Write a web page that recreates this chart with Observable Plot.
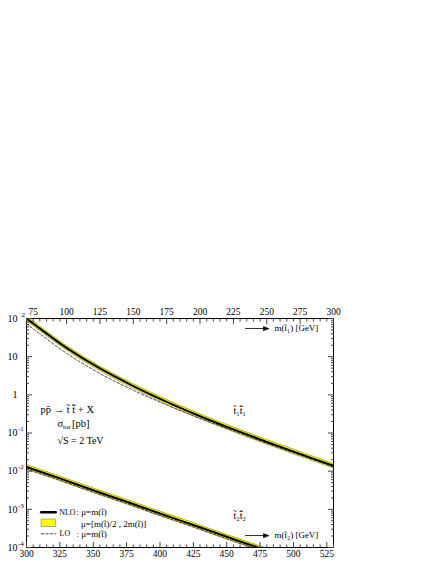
<!DOCTYPE html>
<html>
<head>
<meta charset="utf-8">
<script src="https://cdn.jsdelivr.net/npm/d3@7"></script>
<script src="https://cdn.jsdelivr.net/npm/@observablehq/plot@0.6"></script>
<style>
  html, body { margin: 0; padding: 0; background: #fff; }
  #chart svg { display: block; }
</style>
</head>
<body>
<div id="chart"></div>
<script>
// ---- data ----
// stop-1 pair: masses on the top axis m(t1) [GeV]
const t1Mass = [70, 75, 100, 125, 150, 175, 200, 225, 250, 275, 300];
const t1Nlo  = [100, 74.1, 17.0, 4.9, 1.70, 0.653, 0.275, 0.124, 0.0582, 0.0282, 0.0138];
const t1Up   = [115, 85, 19.6, 5.6, 1.95, 0.75, 0.316, 0.143, 0.067, 0.0324, 0.0159];
const t1Down = [87, 64.5, 14.8, 4.26, 1.48, 0.568, 0.239, 0.108, 0.0506, 0.0245, 0.0120];
const t1Lo   = [72.4, 53.7, 12.3, 3.63, 1.32, 0.543, 0.240, 0.113, 0.0537, 0.0263, 0.0129];
// stop-2 pair: masses on the bottom axis m(t2) [GeV]
const t2Mass = [300, 325, 350, 375, 400, 425, 450, 475, 480];
const t2Nlo  = [0.0129, 0.00646, 0.00316, 0.00158, 0.000776, 0.000389, 0.000191, 0.0000955, 0.0000832];
const t2Up   = [0.0148, 0.0074, 0.00363, 0.00182, 0.00089, 0.000447, 0.000219, 0.00011, 0.0000955];
const t2Down = [0.0112, 0.0056, 0.00275, 0.00138, 0.00068, 0.000339, 0.000166, 0.000083, 0.0000724];
const t2Lo   = [0.0115, 0.00575, 0.00282, 0.00141, 0.00069, 0.000347, 0.00017, 0.000085, 0.000074];

// axis ticks
const bottomMajor = [300, 325, 350, 375, 400, 425, 450, 475, 500, 525];
const topMajor = [75, 100, 125, 150, 175, 200, 225, 250, 275, 300];
const yMajor = [1e-4, 1e-3, 1e-2, 1e-1, 1, 10, 100];
const yBase = ["10", "10", "10", "10", "1", "10", "10"];
const yExp  = ["-4", "-3", "-2", "-1", "", "", "\u20022"];
const TOP_OFFSET = 230; // m(t2) - m(t1) between the two horizontal axes

// ---- derived tables ----
const t1 = t1Mass.map((m, i) => ({x: m + TOP_OFFSET, nlo: t1Nlo[i], up: t1Up[i], down: t1Down[i], lo: t1Lo[i]}));
const t2 = t2Mass.map((m, i) => ({x: m, nlo: t2Nlo[i], up: t2Up[i], down: t2Down[i], lo: t2Lo[i]}));
const topMajorPos = topMajor.map(v => v + TOP_OFFSET);
const bottomMinor = d3.range(300, 531, 5).filter(v => !bottomMajor.includes(v));
const topMinorPos = d3.range(300, 531, 5).filter(v => !topMajorPos.includes(v));
const yMinor = [];
for (let e = -4; e < 2; e++) for (let k = 2; k <= 9; k++) yMinor.push(k * Math.pow(10, e));

const FONT = "'Liberation Serif', 'Times New Roman', serif";
const YELLOW = "#ffff00";
const EDGE = "#7a7a30";
const CURVE = "catmull-rom";

// custom vector shapes
const lineShape = {draw(c, l) { c.moveTo(0, 0); c.lineTo(0, -l); }};
const rectShape = {draw(c, l) { c.moveTo(-3.5, 0); c.lineTo(3.5, 0); c.lineTo(3.5, -l); c.lineTo(-3.5, -l); c.closePath(); }};
const arrowShape = {draw(c, l) {
  c.moveTo(0, 0); c.lineTo(0, -l + 4);
  c.moveTo(0, -l); c.lineTo(-1.8, -l + 5); c.lineTo(1.8, -l + 5); c.closePath();
}};

const curveMarks = (rows) => [
  Plot.areaY(rows, {x: "x", y1: "down", y2: "up", fill: YELLOW, clip: true, curve: CURVE}),
  Plot.lineY(rows, {x: "x", y: "up", stroke: EDGE, strokeWidth: 0.6, clip: true, curve: CURVE}),
  Plot.lineY(rows, {x: "x", y: "down", stroke: EDGE, strokeWidth: 0.6, clip: true, curve: CURVE}),
  Plot.lineY(rows, {x: "x", y: "lo", stroke: "#222", strokeWidth: 0.8, strokeDasharray: "2.5,2", clip: true, curve: CURVE}),
  Plot.lineY(rows, {x: "x", y: "nlo", stroke: "#000", strokeWidth: 2, clip: true, curve: CURVE})
];

const txt = (s, o) => Plot.text([s], {text: d => d, textAnchor: "start", lineAnchor: "middle", fill: "#000", fontFamily: FONT, ...o});

const chart = Plot.plot({
  width: 436,
  height: 564,
  marginTop: 318,
  marginLeft: 26,
  marginRight: 103,
  marginBottom: 17,
  style: {fontFamily: FONT, fontSize: "10px", background: "#fff", color: "#000"},
  x: {domain: [300, 530]},
  y: {type: "log", domain: [1e-4, 1e2]},
  marks: [
    ...curveMarks(t1),
    ...curveMarks(t2),
    Plot.frame({stroke: "#000", strokeWidth: 1}),
    // bottom axis
    Plot.axisX({anchor: "bottom", ticks: bottomMajor, tickSize: -5, tickFormat: () => "", label: null, stroke: "#444"}),
    Plot.axisX({anchor: "bottom", ticks: bottomMinor, tickSize: -2.5, tickFormat: () => "", label: null, stroke: "#444"}),
    Plot.axisX({anchor: "bottom", ticks: bottomMajor, tickSize: 0, tickPadding: 3, tickFormat: d => String(d), label: null, fontSize: 9.5}),
    // top axis
    Plot.axisX({anchor: "top", ticks: topMajorPos, tickSize: -5, tickFormat: () => "", label: null, stroke: "#444"}),
    Plot.axisX({anchor: "top", ticks: topMinorPos, tickSize: -2.5, tickFormat: () => "", label: null, stroke: "#444"}),
    Plot.axisX({anchor: "top", ticks: topMajorPos, tickSize: 0, tickPadding: 4, tickFormat: d => String(d - TOP_OFFSET), label: null, fontSize: 9.5}),
    // left & right axes
    Plot.axisY({anchor: "left", ticks: yMajor, tickSize: -6, tickFormat: () => "", label: null, stroke: "#444"}),
    Plot.axisY({anchor: "left", ticks: yMinor, tickSize: -3, tickFormat: () => "", label: null, stroke: "#444"}),
    Plot.axisY({anchor: "right", ticks: yMajor, tickSize: -6, tickFormat: () => "", label: null, stroke: "#444"}),
    Plot.axisY({anchor: "right", ticks: yMinor, tickSize: -3, tickFormat: () => "", label: null, stroke: "#444"}),
    Plot.axisY({anchor: "left", ticks: yMajor, tickSize: 0, tickPadding: 9, tickFormat: d => yBase[yMajor.indexOf(d)], label: null, fontSize: 10}),
    Plot.axisY({anchor: "left", ticks: yMajor, tickSize: 0, tickPadding: 8.5, textAnchor: "start", dy: -4, tickFormat: d => yExp[yMajor.indexOf(d)], label: null, fontSize: 7}),
    // axis titles inside the frame
    Plot.vector([0], {frameAnchor: "top-left", dx: 219, dy: 10, rotate: 90, length: 23, anchor: "start", shape: arrowShape, stroke: "#000", fill: "#000", strokeWidth: 0.8}),
    txt("m(t\u0303\u2081) [GeV]", {frameAnchor: "top-left", dx: 248, dy: 10, fontSize: 9}),
    Plot.vector([0], {frameAnchor: "top-left", dx: 219, dy: 217, rotate: 90, length: 23, anchor: "start", shape: arrowShape, stroke: "#000", fill: "#000", strokeWidth: 0.8}),
    txt("m(t\u0303\u2082) [GeV]", {frameAnchor: "top-left", dx: 248, dy: 217, fontSize: 9}),
    // curve labels
    txt("t\u0303\u2081t\u0303\u0304\u2081", {frameAnchor: "top-left", dx: 207, dy: 92, fontSize: 10}),
    txt("t\u0303\u2082t\u0303\u0304\u2082", {frameAnchor: "top-left", dx: 207, dy: 197, fontSize: 10}),
    // process annotation
    txt("pp\u0304 \u2192 t\u0303 t\u0303\u0304 + X", {frameAnchor: "top-left", dx: 14, dy: 91, fontSize: 10.5}),
    txt("\u03C3", {frameAnchor: "top-left", dx: 31, dy: 105, fontSize: 10.5}),
    txt("tot", {frameAnchor: "top-left", dx: 36.5, dy: 108, fontSize: 7}),
    txt("[pb]", {frameAnchor: "top-left", dx: 45.5, dy: 105, fontSize: 10.5}),
    txt("\u221AS = 2 TeV", {frameAnchor: "top-left", dx: 31, dy: 122, fontSize: 10}),
    // legend
    Plot.vector([0], {frameAnchor: "bottom-left", dx: 14.7, dy: -35.3, rotate: 90, length: 14.5, anchor: "start", shape: lineShape, stroke: "#000", strokeWidth: 2.5}),
    Plot.vector([0], {frameAnchor: "bottom-left", dx: 14.7, dy: -24.5, rotate: 90, length: 14.5, anchor: "start", shape: rectShape, stroke: EDGE, fill: YELLOW, strokeWidth: 0.6}),
    Plot.vector([0], {frameAnchor: "bottom-left", dx: 14.7, dy: -13.7, rotate: 90, length: 14.5, anchor: "start", shape: lineShape, stroke: "#222", strokeWidth: 0.8, strokeDasharray: "2.5,2"}),
    txt("NLO", {frameAnchor: "bottom-left", dx: 32.7, dy: -35.3, fontSize: 8}),
    txt(": \u03BC=m(t\u0303)", {frameAnchor: "bottom-left", dx: 50, dy: -35.3, fontSize: 9}),
    txt("\u03BC=[m(t\u0303)/2 , 2m(t\u0303)]", {frameAnchor: "bottom-left", dx: 54.5, dy: -23.5, fontSize: 9}),
    txt("LO", {frameAnchor: "bottom-left", dx: 33, dy: -13.7, fontSize: 8}),
    txt(": \u03BC=m(t\u0303)", {frameAnchor: "bottom-left", dx: 50, dy: -13.7, fontSize: 9})
  ]
});
document.getElementById("chart").appendChild(chart);
</script>
</body>
</html>
